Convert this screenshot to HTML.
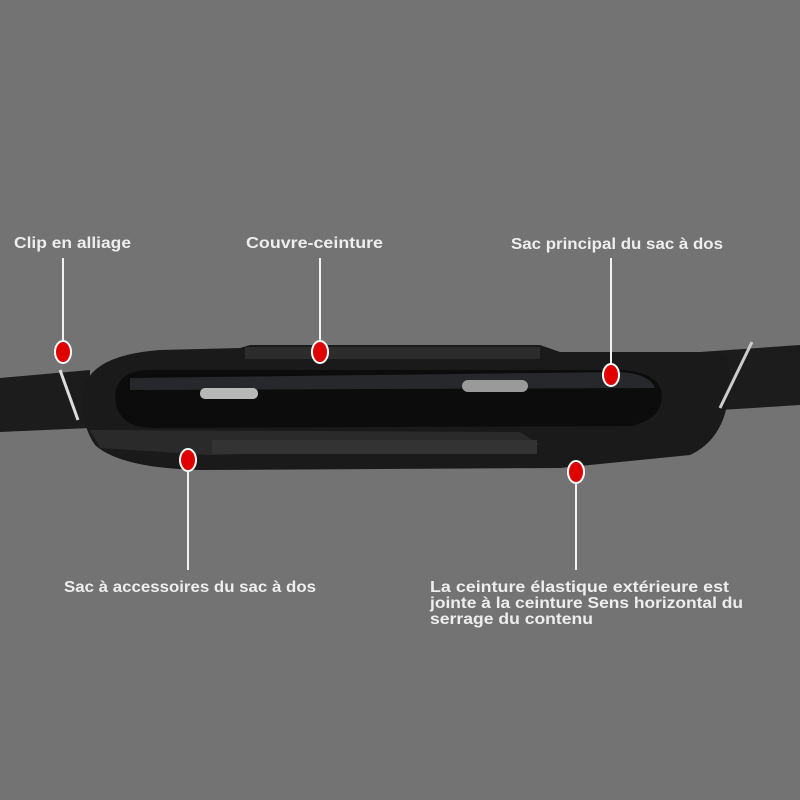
<!DOCTYPE html>
<html><head><meta charset="utf-8"><style>
html,body{margin:0;padding:0;background:#737373;}
svg{display:block}
text{font-family:"Liberation Sans",sans-serif;font-weight:bold;font-size:16px;fill:#eeeeee}
</style></head><body>
<svg width="800" height="800" viewBox="0 0 800 800" xmlns="http://www.w3.org/2000/svg">
<rect width="800" height="800" fill="#737373"/>
<path d="M0 378 L90 370 L90 428 L0 432 Z" fill="#1c1c1c"/>
<path d="M700 352 L800 345 L800 405 L720 410 Z" fill="#1c1c1c"/>
<path d="M85 385 Q95 355 160 350 L240 348 L250 345 L540 345 L560 352 L720 352 Q735 360 728 400 Q722 440 690 455 L560 468 L200 470 Q120 468 95 445 Q78 420 85 385 Z" fill="#1a1a1a"/>
<path d="M115 395 Q118 370 150 370 L620 370 Q660 372 662 395 Q662 420 630 426 L150 428 Q115 426 115 395 Z" fill="#0c0c0c"/>
<path d="M130 378 L620 372 Q650 374 655 388 L130 390 Z" fill="#2e3033" opacity="0.8"/>
<rect x="200" y="388" width="58" height="11" rx="5" fill="#b8b8b8"/>
<rect x="462" y="380" width="66" height="12" rx="6" fill="#9a9a9a"/>
<path d="M90 430 L520 432 L540 445 L210 455 L100 448 Z" fill="#2a2a2a"/>
<rect x="212" y="440" width="325" height="14" fill="#333"/>
<rect x="245" y="347" width="295" height="12" fill="#2c2c2c"/>
<line x1="60" y1="370" x2="78" y2="420" stroke="#ddd" stroke-width="3"/>
<line x1="752" y1="342" x2="720" y2="408" stroke="#ccc" stroke-width="3"/>
<g stroke="#f2f2f2" stroke-width="2">
<line x1="63" y1="258" x2="63" y2="342"/>
<line x1="320" y1="258" x2="320" y2="342"/>
<line x1="611" y1="258" x2="611" y2="364"/>
<line x1="188" y1="470" x2="188" y2="570"/>
<line x1="576" y1="482" x2="576" y2="570"/>
</g>
<g fill="#e00000" stroke="#fff" stroke-width="2">
<ellipse cx="63" cy="352" rx="8" ry="11"/>
<ellipse cx="320" cy="352" rx="8" ry="11"/>
<ellipse cx="611" cy="375" rx="8" ry="11"/>
<ellipse cx="188" cy="460" rx="8" ry="11"/>
<ellipse cx="576" cy="472" rx="8" ry="11"/>
</g>
<text x="14" y="248" textLength="117" lengthAdjust="spacingAndGlyphs">Clip en alliage</text>
<text x="246" y="248" textLength="137" lengthAdjust="spacingAndGlyphs">Couvre-ceinture</text>
<text x="511" y="249" textLength="212" lengthAdjust="spacingAndGlyphs">Sac principal du sac à dos</text>
<text x="64" y="592" textLength="252" lengthAdjust="spacingAndGlyphs">Sac à accessoires du sac à dos</text>
<text x="430" y="592" textLength="299" lengthAdjust="spacingAndGlyphs">La ceinture élastique extérieure est</text>
<text x="430" y="608" textLength="313" lengthAdjust="spacingAndGlyphs">jointe à la ceinture Sens horizontal du</text>
<text x="430" y="624" textLength="163" lengthAdjust="spacingAndGlyphs">serrage du contenu</text>
</svg>
</body></html>
